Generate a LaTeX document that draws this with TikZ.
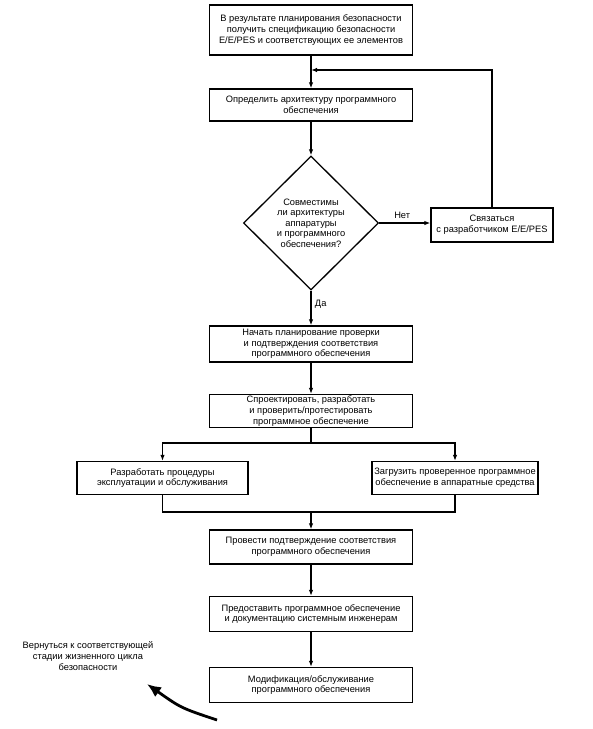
\documentclass[tikz,border=0pt]{standalone}
\usepackage{fontspec}
\setmainfont{Liberation Sans}
\usetikzlibrary{shapes.geometric,arrows.meta}
\begin{document}
\begin{tikzpicture}[x=1pt,y=-1pt,
  font=\fontsize{9.3}{10.6}\selectfont,
  box/.style={draw,line width=1.3pt,align=center,inner sep=1pt,minimum height=33pt},
  cbox/.style={box,minimum width=203pt},
  arr/.style={line width=1.3pt,-{Latex[length=6pt,width=4.5pt]}},
  ln/.style={line width=1.3pt}]
\useasboundingbox (0,0) rectangle (593,729);
\node[cbox,minimum height=50pt] (b1) at (311,30) {В результате планирования безопасности\\получить спецификацию безопасности\\E/E/PES и соответствующих ее элементов};
\node[cbox,minimum height=32pt] (b2) at (311,105) {Определить архитектуру программного\\обеспечения};
\node[draw,line width=1.3pt,shape=diamond,minimum width=135pt,minimum height=134pt,inner sep=0pt,align=center] (d) at (311,223) {Совместимы\\ли архитектуры\\аппаратуры\\и программного\\обеспечения?};
\node[box,minimum width=122pt,minimum height=34pt] (bc) at (492,225) {Связаться\\с разработчиком E/E/PES};
\node[cbox,minimum height=36pt] (b3) at (311,344) {Начать планирование проверки\\и подтверждения соответствия\\программного обеспечения};
\node[cbox,minimum height=33pt] (b4) at (311,411) {Спроектировать, разработать\\и проверить/протестировать\\программное обеспечение};
\node[box,minimum width=171pt] (bl) at (162.5,478) {Разработать процедуры\\эксплуатации и обслуживания};
\node[box,minimum width=166pt] (br) at (455,478) {Загрузить проверенное программное\\обеспечение в аппаратные средства};
\node[cbox,minimum height=34pt] (b5) at (311,547) {Провести подтверждение соответствия\\программного обеспечения};
\node[cbox,minimum height=35pt] (b6) at (311,614) {Предоставить программное обеспечение\\и документацию системным инженерам};
\node[cbox,minimum height=35pt] (b7) at (311,685) {Модификация/обслуживание\\программного обеспечения};
\node[align=center] (ret) at (88,656) {Вернуться к соответствующей\\стадии жизненного цикла\\безопасности};
\coordinate (fb) at (311,70);
\coordinate (sp) at (311,443);
\coordinate (mg) at (311,512);
\coordinate (ct) at (217,720);
\coordinate (ch) at (147,684);
\draw[arr] (b1) -- (b2);
\draw[arr] (bc.north) |- (fb);
\draw[arr] (b2) -- (d.north);
\draw[arr] (d.east) -- node[above,pos=0.45] {Нет} (d.east -| bc.west);
\draw[arr] (d.south) -- node[right,pos=0.4] {Да} (b3.north);
\draw[arr] (b3) -- (b4);
\draw[ln] (b4.south) -- (sp);
\draw[arr] (sp) -| (bl.north);
\draw[arr] (sp) -| (br.north);
\draw[ln] (bl.south) |- (mg) -| (br.south);
\draw[arr] (mg) -- (b5);
\draw[arr] (b5) -- (b6);
\draw[arr] (b6) -- (b7);
\draw[line width=2.8pt,-{Latex[length=14pt,width=12pt]}] (ct) .. controls (181,708) .. (ch);
\end{tikzpicture}
\end{document}
